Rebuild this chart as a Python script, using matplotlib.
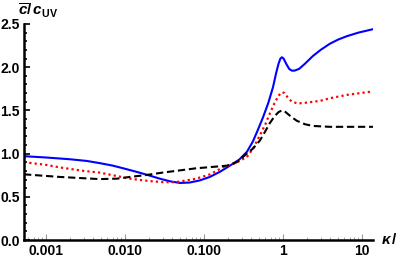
import matplotlib
matplotlib.use("Agg")
import matplotlib.pyplot as plt
from matplotlib.ticker import LogLocator, FixedLocator, MultipleLocator, NullFormatter

# valores
kappa_azul = [5.3e-4, 1e-3, 2e-3, 3.3e-3, 4.8e-3, 7.1e-3, 0.01, 0.0146, 0.0207, 0.0277, 0.037,
              0.05, 0.066, 0.089, 0.119, 0.16, 0.213, 0.28, 0.35, 0.417, 0.48,
              0.56, 0.65, 0.75, 0.82, 0.88, 0.93, 0.97, 1.02, 1.1, 1.2,
              1.3, 1.4, 1.6, 1.9, 2.4, 3.0, 3.9, 5.0, 6.5, 9.0, 13.8]
c_azul = [0.97, 0.955, 0.935, 0.915, 0.89, 0.86, 0.825, 0.785, 0.745, 0.71, 0.68,
          0.66, 0.665, 0.69, 0.73, 0.79, 0.86, 0.93, 1.02, 1.14, 1.27,
          1.42, 1.58, 1.77, 1.93, 2.04, 2.10, 2.115, 2.10, 2.04, 1.98,
          1.96, 1.96, 1.98, 2.04, 2.13, 2.20, 2.27, 2.32, 2.36, 2.40, 2.44]

kappa_vermelho = [5.3e-4, 1e-3, 1.5e-3, 3e-3, 4.8e-3, 0.0116, 0.0155, 0.022, 0.03, 0.045,
                  0.08, 0.12, 0.174, 0.25, 0.35, 0.42, 0.51, 0.6, 0.68, 0.78,
                  0.88, 0.97, 1.05, 1.15, 1.3, 1.55, 2.0, 2.94, 3.9, 6.5, 13.8]
c_vermelho = [0.90, 0.87, 0.84, 0.80, 0.78, 0.71, 0.695, 0.68, 0.67, 0.67,
              0.71, 0.76, 0.84, 0.89, 0.96, 1.06, 1.21, 1.34, 1.46, 1.58,
              1.67, 1.71, 1.70, 1.65, 1.60, 1.58, 1.59, 1.61, 1.64, 1.68, 1.72]

kappa_preto = [5.3e-4, 1.5e-3, 3e-3, 4.8e-3, 0.008, 0.0116, 0.018, 0.03, 0.08, 0.195,
               0.26, 0.35, 0.42, 0.51, 0.6, 0.68, 0.78, 0.88, 0.97, 1.05,
               1.15, 1.3, 1.5, 1.9, 2.4, 3.9, 13.8]
c_preto = [0.76, 0.73, 0.715, 0.705, 0.71, 0.73, 0.75, 0.78, 0.83, 0.86,
           0.90, 1.00, 1.06, 1.15, 1.26, 1.35, 1.43, 1.48, 1.50, 1.49,
           1.46, 1.42, 1.38, 1.34, 1.32, 1.31, 1.31]

xticks = [0.001, 0.01, 0.1, 1, 10]
xlabels = ["0.001", "0.010", "0.100", "1", "10"]
yticks = [0.0, 0.5, 1.0, 1.5, 2.0, 2.5]

plt.rcParams['font.family'] = ['Liberation Sans', 'DejaVu Sans']
plt.rcParams['mathtext.fontset'] = 'custom'
plt.rcParams['mathtext.it'] = 'Liberation Sans:italic:bold'
plt.rcParams['mathtext.rm'] = 'Liberation Sans:bold'
plt.rcParams['mathtext.bf'] = 'Liberation Sans:bold'

fig = plt.figure(figsize=(3.99, 2.60), dpi=100)
ax = fig.add_axes([24 / 399, 20 / 260, (373 - 24) / 399, (240 - 24) / 260])

ax.plot(kappa_azul, c_azul, color='#0000ff', lw=1.5, solid_joinstyle='round')
ax.plot(kappa_vermelho, c_vermelho, color='#ff0000', lw=1.6, ls=(0, (1, 1.4)))
ax.plot(kappa_preto, c_preto, color='black', lw=1.5, ls=(0, (3.5, 1.8)))

ax.set_xscale('log')
ax.set_xlim(5.3e-4, 13.8)
ax.set_ylim(0, 2.5)

for s in ['top', 'right']:
    ax.spines[s].set_visible(False)
for s in ['left', 'bottom']:
    ax.spines[s].set_linewidth(1.8)

ax.xaxis.set_major_locator(FixedLocator(xticks))
ax.set_xticklabels(xlabels)
ax.xaxis.set_minor_locator(LogLocator(base=10, subs=range(2, 10)))
ax.xaxis.set_minor_formatter(NullFormatter())
ax.yaxis.set_major_locator(FixedLocator(yticks))
ax.set_yticklabels([f"{v:.1f}" for v in yticks])
ax.yaxis.set_minor_locator(MultipleLocator(0.1))

ax.tick_params(axis='both', which='major', direction='in', length=4, width=0.8,
               labelsize=10, pad=3, color='#999999')
ax.tick_params(axis='both', which='minor', direction='in', length=2, width=0.6,
               color='#999999')
ax.tick_params(axis='y', which='both', color='black', width=1.2)
for lab in ax.get_xticklabels() + ax.get_yticklabels():
    lab.set_fontweight('bold')

# no original o rotulo aparece cortado na borda: so "kappa /" fica visivel
fig.text(381 / 399, 1 - 240 / 260, r'$\kappa\,/$', fontsize=11,
         ha='left', va='center')
fig.text(18 / 399, 1 - 11 / 260, r'$\overline{c}/\,c_{\mathrm{UV}}$', fontsize=11,
         ha='left', va='center')

fig.savefig('out.png', dpi=100)
